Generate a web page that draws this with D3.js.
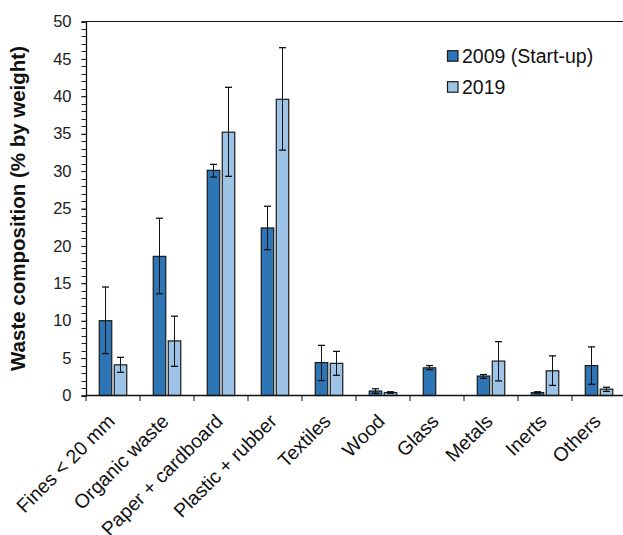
<!DOCTYPE html>
<html>
<head>
<meta charset="utf-8">
<script src="https://cdn.jsdelivr.net/npm/d3@7/dist/d3.min.js"></script>
<style>
  html, body { margin: 0; padding: 0; background: #fff; }
  svg { display: block; }
  text { font-family: "Liberation Sans", Arial, sans-serif; }
</style>
</head>
<body>
<svg id="chart" width="623" height="535"></svg>
<script>
// Waste composition by category, two sampling campaigns (% by weight)
const categories = ["Fines < 20 mm", "Organic waste", "Paper + cardboard", "Plastic + rubber",
  "Textiles", "Wood", "Glass", "Metals", "Inerts", "Others"];
const seriesNames = ["2009 (Start-up)", "2019"];
const seriesColors = ["#2E75B6", "#9DC3E6"];

const values2009 = [10.0, 18.6, 30.1, 22.4, 4.4, 0.6, 3.7, 2.6, 0.4, 4.0];
const low2009    = [5.6, 13.6, 29.2, 19.5, 2.0, 0.3, 3.45, 2.3, 0.3, 1.5];
const high2009   = [14.5, 23.7, 30.9, 25.3, 6.7, 0.9, 4.0, 2.8, 0.5, 6.5];

const values2019 = [4.1, 7.3, 35.2, 39.6, 4.3, 0.4, null, 4.6, 3.3, 0.85];
const low2019    = [3.1, 3.9, 29.3, 32.8, 2.7, 0.3, null, 1.95, 1.35, 0.55];
const high2019   = [5.1, 10.6, 41.2, 46.5, 5.9, 0.5, null, 7.2, 5.3, 1.1];

const yTicks = [0, 5, 10, 15, 20, 25, 30, 35, 40, 45, 50];

const svg = d3.select("#chart");
const plotLeft = 86, plotRight = 626, plotTop = 21.5, plotBottom = 395.5;

const x = d3.scaleBand().domain(categories).range([plotLeft, plotRight]).padding(0);
const xs = d3.scaleBand().domain(seriesNames).range([13.25, 40.75]).paddingInner(1 / 6);
const y = d3.scaleLinear().domain([0, 50]).range([plotBottom, plotTop]);

const series = [
  { name: seriesNames[0], color: seriesColors[0], v: values2009, lo: low2009, hi: high2009 },
  { name: seriesNames[1], color: seriesColors[1], v: values2019, lo: low2019, hi: high2019 }
];

// top frame line
svg.append("line")
  .attr("x1", plotLeft).attr("x2", 623).attr("y1", plotTop).attr("y2", plotTop)
  .attr("stroke", "#111").attr("stroke-width", 1.2);

// minor y ticks every 1 unit
const minor = d3.range(0, 51, 1);
svg.append("g").selectAll("line").data(minor).join("line")
  .attr("x1", plotLeft - 4.5).attr("x2", plotLeft)
  .attr("y1", d => Math.round(y(d)) + 0.5).attr("y2", d => Math.round(y(d)) + 0.5)
  .attr("stroke", "#222").attr("stroke-width", 1);

// y axis
const yAxis = svg.append("g").attr("transform", `translate(${plotLeft},0)`)
  .call(d3.axisLeft(y).tickValues(yTicks).tickSize(4.5).tickPadding(10));
yAxis.select(".domain").attr("stroke", "#111").attr("stroke-width", 1.3);
yAxis.selectAll(".tick line").attr("stroke", "#222");
yAxis.selectAll("text").attr("font-size", "16.5px").attr("fill", "#222")
  .attr("font-family", "Liberation Sans, Arial, sans-serif");

// bars with error bars
series.forEach(s => {
  const g = svg.append("g");
  categories.forEach((c, i) => {
    if (s.v[i] == null) return;
    const bx = x(c) + xs(s.name);
    const bw = xs.bandwidth();
    g.append("rect")
      .attr("x", bx).attr("y", y(s.v[i]))
      .attr("width", bw).attr("height", y(0) - y(s.v[i]))
      .attr("fill", s.color).attr("stroke", "#1a1a1a").attr("stroke-width", 1.2);
    const cx = bx + bw / 2;
    g.append("line").attr("x1", cx).attr("x2", cx)
      .attr("y1", y(s.lo[i])).attr("y2", y(s.hi[i]))
      .attr("stroke", "#111").attr("stroke-width", 1);
    [s.lo[i], s.hi[i]].forEach(t => {
      g.append("line").attr("x1", cx - 3.5).attr("x2", cx + 3.5)
        .attr("y1", y(t)).attr("y2", y(t))
        .attr("stroke", "#111").attr("stroke-width", 1.3);
    });
  });
});

// x axis
const xAxis = svg.append("g").attr("transform", `translate(0,${plotBottom})`);
xAxis.append("line").attr("x1", plotLeft).attr("x2", 623).attr("y1", 0).attr("y2", 0)
  .attr("stroke", "#111").attr("stroke-width", 1.5);
xAxis.selectAll("line.tk").data(d3.range(categories.length + 1)).join("line")
  .attr("class", "tk")
  .attr("x1", i => plotLeft + i * x.step()).attr("x2", i => plotLeft + i * x.step())
  .attr("y1", 0).attr("y2", 5.5)
  .attr("stroke", "#111").attr("stroke-width", 1);
xAxis.selectAll("text").data(categories).join("text")
  .attr("transform", d => `translate(${x(d) + x.bandwidth() / 2 + 3},${27}) rotate(-45)`)
  .attr("text-anchor", "end")
  .attr("font-size", "19.5px").attr("fill", "#111")
  .text(d => d);

// y axis title
svg.append("text")
  .attr("transform", `translate(25,${(plotTop + plotBottom) / 2}) rotate(-90)`)
  .attr("text-anchor", "middle")
  .attr("font-size", "20.5px").attr("font-weight", "bold").attr("fill", "#111")
  .text("Waste composition (% by weight)");

// legend
const legend = svg.append("g");
series.forEach((s, i) => {
  const ly = 50.7 + i * 31;
  legend.append("rect").attr("x", 447.5).attr("y", ly)
    .attr("width", 10.5).attr("height", 10.5)
    .attr("fill", s.color).attr("stroke", "#1a1a1a").attr("stroke-width", 1.2);
  legend.append("text").attr("x", 462).attr("y", ly + 11.8)
    .attr("font-size", "19.5px").attr("fill", "#111")
    .text(s.name);
});
</script>
</body>
</html>
